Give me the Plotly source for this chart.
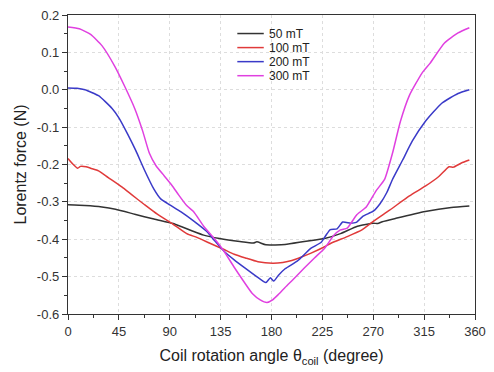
import plotly.graph_objects as go

# ---- data ----
angle_50 = [0, 15, 30, 42, 59, 76, 93, 100, 110, 120, 134, 152, 164, 167, 175, 192, 209, 227, 241, 256,
            270, 274, 278, 290, 316, 339, 355]
force_50 = [-0.308, -0.310, -0.314, -0.320, -0.333, -0.346, -0.358, -0.366, -0.378, -0.389, -0.398,
            -0.406, -0.410, -0.407, -0.415, -0.414, -0.406, -0.398, -0.385, -0.365,
            -0.357, -0.358, -0.353, -0.344, -0.326, -0.315, -0.311]

angle_100 = [0, 4, 8.6, 11, 16, 20, 27, 35.6, 47.6, 56, 67.5, 79, 93, 105, 114, 125, 137, 147, 157, 168,
             181, 190, 198, 207, 215, 227, 233, 247, 260, 271, 284.5, 302, 316, 328, 337, 341, 348, 355]
force_100 = [-0.184, -0.198, -0.210, -0.205, -0.206, -0.210, -0.217, -0.235, -0.260, -0.280, -0.307,
             -0.333, -0.360, -0.385, -0.395, -0.410, -0.426, -0.440, -0.450, -0.460,
             -0.464, -0.462, -0.457, -0.447, -0.437, -0.420, -0.410, -0.393, -0.375, -0.350,
             -0.322, -0.284, -0.258, -0.232, -0.206, -0.207, -0.196, -0.188]

angle_200 = [0, 8, 15, 27, 39, 45, 53, 60, 67.5, 76, 82, 90, 100, 111, 123, 130, 138, 147, 157, 166, 175,
             179, 182, 186, 192, 203, 210, 215, 224, 228, 232, 238, 243, 250, 255, 261, 270, 276, 282,
             287, 296, 304.6, 316, 330.6, 345, 355]
force_200 = [0.005, 0.004, 0.000, -0.016, -0.050, -0.075, -0.120, -0.163, -0.214, -0.266, -0.292,
             -0.308, -0.327, -0.351, -0.380, -0.405, -0.432, -0.455, -0.478, -0.498, -0.516,
             -0.503, -0.512, -0.497, -0.479, -0.458, -0.438, -0.424, -0.408, -0.390, -0.374,
             -0.372, -0.354, -0.357, -0.355, -0.338, -0.325, -0.305, -0.275,
             -0.240, -0.188, -0.137, -0.085, -0.036, -0.010, 0.000]

angle_300 = [0, 10, 20, 30, 41.5, 50, 59, 66, 72, 78, 85, 92, 98, 105, 111, 120, 130, 138, 147, 155, 163,
             170, 176, 181, 186, 192, 200, 209, 218, 227, 235, 241, 247, 255.6, 264, 272.6, 280, 287,
             294, 302, 313, 320, 333, 345, 355]
force_300 = [0.168, 0.163, 0.148, 0.118, 0.062, 0.010, -0.050, -0.110, -0.170, -0.204, -0.230,
             -0.256, -0.282, -0.310, -0.326, -0.365, -0.400, -0.432, -0.475, -0.511, -0.545,
             -0.562, -0.569, -0.562, -0.548, -0.529, -0.505, -0.477, -0.450, -0.424, -0.390,
             -0.375, -0.370, -0.334, -0.313, -0.270, -0.240, -0.170,
             -0.085, -0.015, 0.044, 0.070, 0.125, 0.152, 0.166]

series_names = ["50 mT", "100 mT", "200 mT", "300 mT"]
series_angles = [angle_50, angle_100, angle_200, angle_300]
series_forces = [force_50, force_100, force_200, force_300]
series_colors = ["#333333", "#e03a3a", "#3a3ac8", "#e040e0"]

x_ticks = [0, 45, 90, 135, 180, 225, 270, 315, 360]
y_ticks = [0.2, 0.1, 0.0, -0.1, -0.2, -0.3, -0.4, -0.5, -0.6]
y_tick_text = ["0.2", "0.1", "0.0", "-0.1", "-0.2", "-0.3", "-0.4", "-0.5", "-0.6"]

FONT = "Liberation Sans, Arial, sans-serif"

fig = go.Figure()
for name, xs, ys, col in zip(series_names, series_angles, series_forces, series_colors):
    fig.add_trace(go.Scatter(x=xs, y=ys, mode="lines", name=name,
                             line=dict(color=col, width=1.5, shape="spline", smoothing=0.5),
                             showlegend=False))

# legend drawn in paper coordinates (compact row spacing as in the reference)
leg_x0, leg_x1, leg_tx = 0.416, 0.481, 0.490
leg_y0, leg_dy = 0.938, 0.047
for i, (name, col) in enumerate(zip(series_names, series_colors)):
    yy = leg_y0 - i * leg_dy
    fig.add_shape(type="line", xref="paper", yref="paper", x0=leg_x0, x1=leg_x1, y0=yy, y1=yy,
                  line=dict(color=col, width=1.5))
    fig.add_annotation(xref="paper", yref="paper", x=leg_tx, y=yy, text=name, showarrow=False,
                       xanchor="left", yanchor="middle",
                       font=dict(family=FONT, size=12, color="#222222"))

axis_common = dict(
    showline=True, linecolor="#333333", linewidth=1.3, mirror=True,
    ticks="outside", ticklen=5, tickwidth=1.2, tickcolor="#333333",
    showgrid=True, gridcolor="#dddddd", griddash="dot", gridwidth=1,
    zeroline=False, ticklabeloverflow="allow",
    tickfont=dict(family=FONT, size=13, color="#333333"),
    title_font=dict(family=FONT, size=16, color="#222222"),
)

fig.update_xaxes(range=[0, 360], tickvals=x_ticks,
                 minor=dict(dtick=22.5, ticks="outside", ticklen=3, tickcolor="#333333", showgrid=False),
                 title_text="Coil rotation angle θ<sub>coil</sub> (degree)", title_standoff=12,
                 **axis_common)
fig.update_yaxes(range=[-0.6, 0.2], tickvals=y_ticks, ticktext=y_tick_text,
                 minor=dict(dtick=0.05, ticks="outside", ticklen=3, tickcolor="#333333", showgrid=False),
                 title_text="Lorentz force (N)", title_standoff=6,
                 **axis_common)

fig.update_layout(
    width=494, height=372,
    margin=dict(l=68, r=10, t=8, b=58),
    paper_bgcolor="white", plot_bgcolor="white",
    showlegend=False,
)

fig.write_html("out.html")
